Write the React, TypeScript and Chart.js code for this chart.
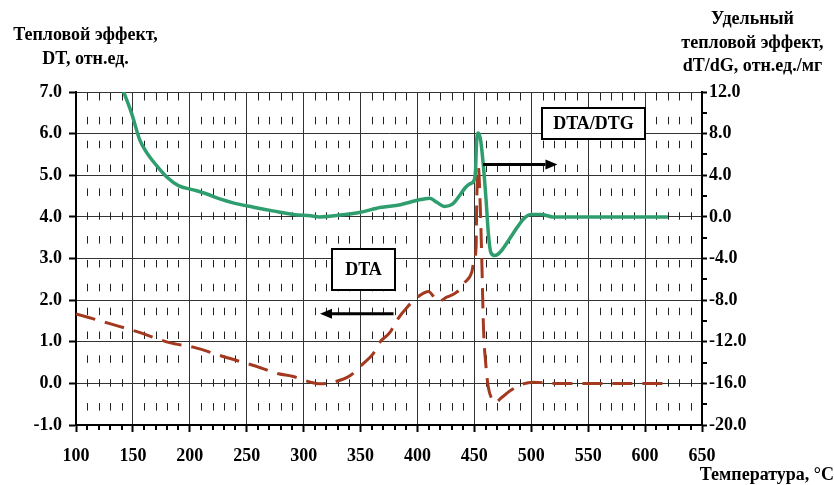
import React, { useEffect, useRef } from "react";
import { Chart, registerables } from "chart.js";

Chart.register(...registerables);

const FONT_FAMILY = '"Liberation Serif", "Times New Roman", Times, serif';

// Temperature axis (°C)
const xMin = 100;
const xMax = 650;
const xMajorStep = 50;
const xMinorStep = 10;

// Left axis: DT, rel. units
const yMin = -1;
const yMax = 7;
const yStep = 1;

// Right axis: dT/dG, rel. units / mg
const y1Min = -20;
const y1Max = 12;
const y1Step = 4;
const y1MinorStep = 2;

// DTA/DTG curve (green, right axis)
const dtgTemp = [139, 149, 156, 162, 171, 180, 190, 203, 215, 227, 238, 256, 274, 291, 306, 314, 330, 350, 367, 385, 399, 411, 417, 424, 431, 437, 442, 446, 449.7, 451, 452, 453.5, 455.6, 458, 460.3, 462.3, 464.4, 468, 472.6, 481, 488.7, 494.6, 500, 509, 519, 540, 580, 620];
const dtgValue = [12.8, 9.9, 7.4, 6.2, 4.9, 3.8, 3.0, 2.6, 2.2, 1.7, 1.35, 0.93, 0.55, 0.23, 0.1, 0.0, 0.15, 0.45, 0.9, 1.17, 1.57, 1.8, 1.4, 1.0, 1.25, 2.05, 2.8, 3.17, 3.5, 4.45, 7.3, 8.07, 7.3, 4.8, 1.6, -1.6, -3.4, -3.72, -3.4, -2.1, -0.84, -0.04, 0.22, 0.22, 0.0, 0.0, 0.0, 0.0];

// DTA curve (red dashed, left axis)
const dtaTemp = [100, 129, 155, 182, 203, 230, 256, 278, 290, 306, 314, 329, 341, 352.5, 361, 367, 376, 382, 391, 402, 409.6, 418.4, 425.7, 434.5, 441.8, 447.7, 449.7, 451.5, 452.1, 453.5, 455, 456.5, 458, 460.3, 462.3, 465.3, 468.2, 474, 481.4, 493, 502, 520, 560, 620];
const dtaValue = [1.67, 1.44, 1.23, 0.98, 0.87, 0.64, 0.43, 0.23, 0.17, 0.03, -0.01, 0.05, 0.19, 0.48, 0.71, 0.99, 1.23, 1.52, 1.83, 2.11, 2.21, 1.97, 2.07, 2.19, 2.43, 2.67, 2.95, 3.27, 4.39, 5.2, 4.39, 3.0, 1.35, 0.38, -0.1, -0.37, -0.46, -0.34, -0.18, -0.01, 0.03, 0.0, 0.0, 0.0];

// Annotation texts
const boxLabels = ["DTA/DTG", "DTA"];

// Annotation placement (data coordinates, left axis for y)
const annotationBoxes = [
  { label: 0, t0: 509, t1: 600, v0: 6.62, v1: 5.86 },
  { label: 1, t0: 325, t1: 380, v0: 3.23, v1: 2.25 },
];
const annotationArrows = [
  { t0: 457.6, t1: 523, v: 5.26 },
  { t0: 379, t1: 314.4, v: 1.67 },
];

const GREEN = "#2f9e6e";
const RED = "#a3391e";

const decorPlugin = {
  id: "decor",
  beforeDatasetsDraw(chart: any) {
    const { ctx, chartArea: a, scales } = chart;
    const x = scales.x;
    ctx.save();
    ctx.strokeStyle = "#222";
    ctx.lineWidth = 1;
    ctx.setLineDash([7.5, 16.35]);
    ctx.lineDashOffset = -1;
    for (let v = xMin + xMinorStep; v < xMax; v += xMinorStep) {
      if (v % xMajorStep === 0) continue;
      const px = Math.round(x.getPixelForValue(v)) + 0.5;
      ctx.beginPath();
      ctx.moveTo(px, a.top);
      ctx.lineTo(px, a.bottom);
      ctx.stroke();
    }
    ctx.restore();
  },
  afterDatasetsDraw(chart: any) {
    const { ctx, scales } = chart;
    const x = scales.x;
    const y = scales.y;
    ctx.save();
    annotationBoxes.forEach((b) => {
      const l = Math.round(x.getPixelForValue(b.t0));
      const r = Math.round(x.getPixelForValue(b.t1));
      const t = Math.round(y.getPixelForValue(b.v0));
      const bt = Math.round(y.getPixelForValue(b.v1));
      ctx.fillStyle = "#fff";
      ctx.fillRect(l, t, r - l, bt - t);
      ctx.strokeStyle = "#000";
      ctx.lineWidth = 2;
      ctx.strokeRect(l, t, r - l, bt - t);
      ctx.fillStyle = "#000";
      ctx.font = `bold 18px ${FONT_FAMILY}`;
      ctx.textAlign = "center";
      ctx.textBaseline = "middle";
      ctx.fillText(boxLabels[b.label], (l + r) / 2, (t + bt) / 2 + 1);
    });
    annotationArrows.forEach((ar) => {
      const x0 = x.getPixelForValue(ar.t0);
      const x1 = x.getPixelForValue(ar.t1);
      const py = y.getPixelForValue(ar.v);
      const dir = Math.sign(x1 - x0);
      const headLen = 12;
      const headHalf = 5;
      ctx.strokeStyle = "#000";
      ctx.fillStyle = "#000";
      ctx.lineWidth = 3;
      ctx.beginPath();
      ctx.moveTo(x0, py);
      ctx.lineTo(x1 - dir * headLen, py);
      ctx.stroke();
      ctx.beginPath();
      ctx.moveTo(x1, py);
      ctx.lineTo(x1 - dir * headLen, py - headHalf);
      ctx.lineTo(x1 - dir * headLen, py + headHalf);
      ctx.closePath();
      ctx.fill();
    });
    ctx.restore();
  },
  afterDraw(chart: any) {
    const { ctx, chartArea: a, scales } = chart;
    const x = scales.x;
    const y1 = scales.y1;
    ctx.save();
    ctx.strokeStyle = "#000";
    ctx.lineWidth = 2;
    for (let v = xMin + xMinorStep; v < xMax; v += xMinorStep) {
      if (v % xMajorStep === 0) continue;
      const px = Math.round(x.getPixelForValue(v));
      ctx.beginPath();
      ctx.moveTo(px, a.bottom);
      ctx.lineTo(px, a.bottom + 5);
      ctx.stroke();
    }
    for (let v = y1Min + y1MinorStep; v < y1Max; v += y1MinorStep) {
      if (v % y1Step === 0) continue;
      const py = Math.round(y1.getPixelForValue(v));
      ctx.beginPath();
      ctx.moveTo(a.right, py);
      ctx.lineTo(a.right + 5, py);
      ctx.stroke();
    }
    ctx.restore();
  },
};

const tickFont = { family: FONT_FAMILY, size: 18, weight: "bold" as const };

export default function App() {
  const canvasRef = useRef<HTMLCanvasElement | null>(null);

  useEffect(() => {
    if (!canvasRef.current) return;
    const chart = new Chart(canvasRef.current, {
      type: "line",
      data: {
        datasets: [
          {
            label: "DTA/DTG",
            data: dtgTemp.map((t, i) => ({ x: t, y: dtgValue[i] })),
            yAxisID: "y1",
            borderColor: GREEN,
            borderWidth: 3.5,
            pointRadius: 0,
            cubicInterpolationMode: "monotone",
            order: 1,
            clip: 0,
          },
          {
            label: "DTA",
            data: dtaTemp.map((t, i) => ({ x: t, y: dtaValue[i] })),
            yAxisID: "y",
            borderColor: RED,
            borderWidth: 3,
            borderDash: [20, 10],
            pointRadius: 0,
            cubicInterpolationMode: "monotone",
            order: 2,
            clip: 0,
          },
        ],
      },
      options: {
        animation: false,
        responsive: false,
        devicePixelRatio: 1,
        layout: { padding: { top: 92, left: 0, right: 0, bottom: 0 } },
        plugins: {
          legend: { display: false },
          tooltip: { enabled: false },
        },
        scales: {
          x: {
            type: "linear",
            min: xMin,
            max: xMax,
            ticks: {
              stepSize: xMajorStep,
              font: tickFont,
              color: "#000",
              padding: 14,
              maxRotation: 0,
            },
            grid: {
              color: "#333",
              lineWidth: 1,
              tickLength: 7,
              tickColor: "#000",
              tickWidth: 2,
            },
            border: { color: "#000", width: 2 },
            afterFit: (s: any) => {
              s.height = 60;
            },
          },
          y: {
            type: "linear",
            position: "left",
            min: yMin,
            max: yMax,
            ticks: {
              stepSize: yStep,
              font: tickFont,
              color: "#000",
              padding: 7,
              callback: (v: any) => Number(v).toFixed(1),
            },
            grid: {
              color: "#333",
              lineWidth: 1,
              tickLength: 7,
              tickColor: "#000",
              tickWidth: 2,
            },
            border: { color: "#000", width: 2 },
            afterFit: (s: any) => {
              s.width = 76;
            },
          },
          y1: {
            type: "linear",
            position: "right",
            min: y1Min,
            max: y1Max,
            ticks: {
              stepSize: y1Step,
              font: tickFont,
              color: "#000",
              padding: 2,
              callback: (v: any) => Number(v).toFixed(1),
            },
            grid: {
              drawOnChartArea: false,
              tickLength: 5,
              tickColor: "#000",
              tickWidth: 2,
            },
            border: { color: "#000", width: 2 },
            afterFit: (s: any) => {
              s.width = 132;
            },
          },
        },
      },
      plugins: [decorPlugin],
    } as any);
    return () => chart.destroy();
  }, []);

  const titleStyle: React.CSSProperties = {
    position: "absolute",
    font: `bold 18px ${FONT_FAMILY}`,
    color: "#000",
    whiteSpace: "nowrap",
  };

  return (
    <div
      style={{
        position: "absolute",
        left: 0,
        top: 0,
        width: 834,
        height: 485,
        overflow: "hidden",
        background: "#fff",
      }}
    >
      <canvas
        ref={canvasRef}
        width={834}
        height={485}
        style={{ position: "absolute", left: 0, top: 0, width: 834, height: 485 }}
      />
      <div style={{ ...titleStyle, left: 0, width: 171, top: 22, lineHeight: "24px", textAlign: "center" }}>
        Тепловой эффект,
        <br />
        DT, отн.ед.
      </div>
      <div style={{ ...titleStyle, left: 671, width: 163, top: 7, lineHeight: "23.5px", textAlign: "center" }}>
        Удельный
        <br />
        тепловой эффект,
        <br />
        dT/dG, отн.ед./мг
      </div>
      <div style={{ ...titleStyle, right: 0, width: 200, top: 463, lineHeight: "22px", textAlign: "right" }}>
        Температура, °С
      </div>
    </div>
  );
}
